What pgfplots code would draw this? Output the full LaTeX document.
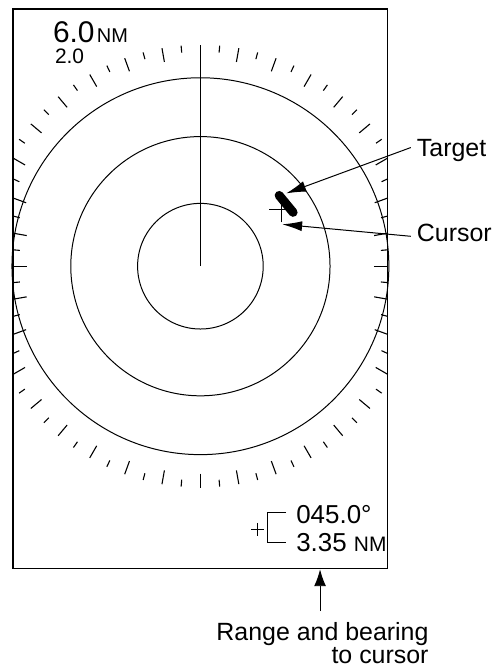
\documentclass[border=0pt]{standalone}
\usepackage{pgfplots}
\pgfplotsset{compat=1.18}
\usetikzlibrary{arrows.meta}
\usepackage{fontspec}
\setmainfont{Liberation Sans}
\begin{document}
\begin{tikzpicture}
\begin{axis}[x=1pt,y=1pt,xmin=-188,xmax=188,ymin=-303,ymax=258,
  axis lines=box, xtick=\empty, ytick=\empty,
  axis line style={line width=1.1pt}, clip=false, scale only axis]
\coordinate (BL) at (-201,-404);
\coordinate (TR) at (299,267);
% range rings
\draw[line width=1pt] (0,0) circle[radius=63];
\draw[line width=1pt] (0,0) circle[radius=130];
\draw[line width=1pt] (0,0) circle[radius=189];
% heading line
\draw[line width=1pt] (0,0) -- (0,222);
% bearing scale
\foreach \a in {0,5,...,355}{
  \pgfmathsetmacro{\c}{max(abs(sin(\a)),0.05)}
  \pgfmathsetmacro{\ro}{ifthenelse(222*\c>188,188/\c,222)}
  \pgfmathsetmacro{\len}{ifthenelse(mod(\a,10)==0,14,7)}
  \pgfmathsetmacro{\ri}{\ro-\len}
  \pgfmathsetmacro{\xa}{\ri*sin(\a)}
  \pgfmathsetmacro{\ya}{\ri*cos(\a)}
  \pgfmathsetmacro{\xb}{\ro*sin(\a)}
  \pgfmathsetmacro{\yb}{\ro*cos(\a)}
  \edef\temp{\noexpand\draw[line width=1.1pt] (\xa,\ya) -- (\xb,\yb);}
  \temp
}
% range labels
\node[anchor=base west,inner sep=0,text depth=0pt] at (-148,224) {\fontsize{30}{30}\selectfont 6.0};
\node[anchor=base west,inner sep=0,text depth=0pt] at (-104,224) {\fontsize{20}{20}\selectfont NM};
\node[anchor=base west,inner sep=0,text depth=0pt,text height=15pt] at (-146,203) {\fontsize{21}{21}\selectfont 2.0};
% cursor and target
\draw[line width=1pt] (69,57) -- (93,57);
\draw[line width=1pt] (81,44) -- (81,69);
\draw[line width=9pt,line cap=round] (79,71) -- (93,54);
\draw[line width=1pt,-{Latex[length=20pt,width=11pt]}] (211,119) -- (86,73);
\draw[line width=1pt,-{Latex[length=20pt,width=10pt]}] (211,30) -- (82,42);
\node[anchor=base west,inner sep=0] at (217,110) {\fontsize{25}{25}\selectfont Target};
\node[anchor=base west,inner sep=0] at (217,25) {\fontsize{25}{25}\selectfont Cursor};
% readout
\draw[line width=1pt] (51,-264) -- (64,-264);
\draw[line width=1pt] (57.5,-257.5) -- (57.5,-270.5);
\draw[line width=1pt] (86,-247) -- (67,-247) -- (67,-277) -- (86,-277);
\node[anchor=base west,inner sep=0] at (96,-258) {\fontsize{26}{26}\selectfont 045.0°};
\node[anchor=base west,inner sep=0] at (96,-286) {\fontsize{26}{26}\selectfont 3.35 {\fontsize{21}{21}\selectfont NM}};
% bottom arrow and caption
\draw[line width=1pt,-{Latex[length=17pt,width=12pt]}] (120,-346) -- (120,-304);
\node[anchor=base east,inner sep=0,text depth=0pt] at (229,-375) {\fontsize{25}{25}\selectfont Range and bearing};
\node[anchor=base east,inner sep=0,text height=18pt] at (229,-398) {\fontsize{25}{25}\selectfont to cursor};
\end{axis}
\path (BL) rectangle (TR);
\end{tikzpicture}
\end{document}
